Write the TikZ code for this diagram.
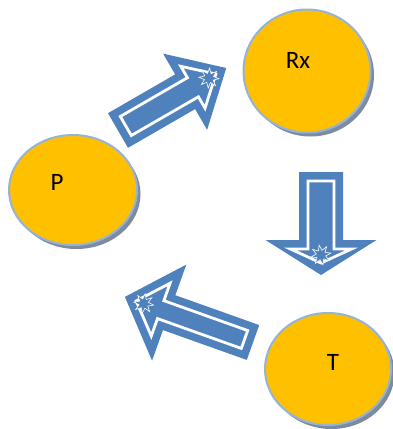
\documentclass[tikz,border=0pt]{standalone}
\usepackage{fontspec}
\setmainfont{Carlito}
\usetikzlibrary{shapes.geometric}

\definecolor{gold}{HTML}{FFC000}
\definecolor{rimblue}{HTML}{95B3D7}
\definecolor{shade}{HTML}{7D8BA0}
\definecolor{arrowblue}{HTML}{4F81BD}

\tikzset{
  disc/.style={ellipse, fill=gold, draw=rimblue, line width=2pt, inner sep=0pt},
  discshadow/.style={ellipse, fill=shade, inner sep=0pt},
  caption/.style={font=\fontsize{25}{25}\selectfont, text=black, inner sep=0pt},
  stripe/.style={white, line width=2.8pt, line join=miter},
  spark/.style={star, star points=8, star point ratio=2.1, minimum size=20pt,
                fill=arrowblue, draw=white, line width=0.6pt, inner sep=0pt}
}

% block arrow: #1 tail point, #2 angle, #3 length, #4 shaft half width,
% #5 head half width, #6 head length
\newcommand{\bluearrow}[6]{%
  \begin{scope}[shift={(#1)}, rotate=#2]
    \fill[arrowblue] (0,-#4) -- (#3-#6,-#4) -- (#3-#6,-#5) -- (#3,0)
      -- (#3-#6,#5) -- (#3-#6,#4) -- (0,#4) -- cycle;
    \draw[stripe] (9,-#4+9) -- (#3-#6+9,-#4+9) -- (#3-#6+9,-0.55*#5)
      -- (#3-12,0) -- (#3-#6+9,0.55*#5) -- (#3-#6+9,#4-9) -- (9,#4-9) -- cycle;
    \node[spark, rotate=#2+11] at (#3-20,0) {};
  \end{scope}}

\begin{document}
\begin{tikzpicture}[x=1pt, y=-1pt]
  \useasboundingbox (0,0) rectangle (392,429);

  % circles with drop shadows
  \node[discshadow, minimum width=128pt, minimum height=110pt] at (76.5,194) {};
  \node[disc, minimum width=128pt, minimum height=110pt] (P) at (73,190) {};
  \node[caption] (Plabel) at (57,182) {P};

  \node[discshadow, minimum width=127pt, minimum height=123pt] at (310.5,75) {};
  \node[disc, minimum width=127pt, minimum height=123pt] (Rx) at (307,71) {};
  \node[caption] (Rxlabel) at (298,60) {Rx};

  \node[discshadow, minimum width=126pt, minimum height=112pt] at (331.5,373) {};
  \node[disc, minimum width=126pt, minimum height=112pt] (T) at (328,369) {};
  \node[caption] (Tlabel) at (333,362) {T};

  % block arrows between the circles
  \coordinate (a1) at (118,130.5);
  \coordinate (a2) at (321,172);
  \coordinate (a3) at (253,342.5);
  \bluearrow{a1}{30}{125}{20}{44}{47.5}
  \bluearrow{a2}{-90}{103}{22}{55.5}{35}
  \bluearrow{a3}{160.4}{136}{18.5}{51}{47}
\end{tikzpicture}
\end{document}
